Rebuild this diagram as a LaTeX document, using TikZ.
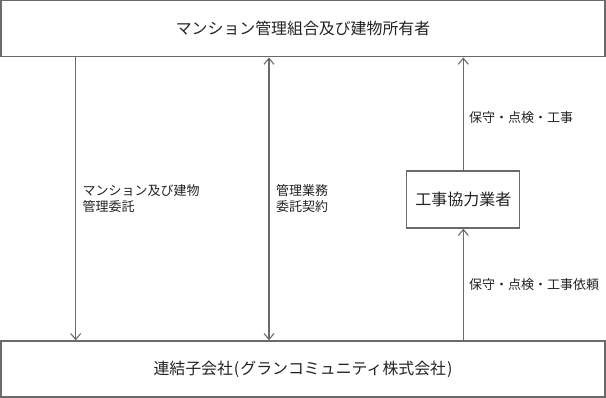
\documentclass[tikz,border=0pt]{standalone}
\usepackage{fontspec}
\newfontfamily\jp{Noto Sans CJK JP}
\usetikzlibrary{arrows.meta}
\definecolor{linegray}{HTML}{6A6A6A}
\definecolor{txt}{HTML}{222222}
\tikzset{
  bigbox/.style={draw=linegray, line width=1.3pt, minimum width=604pt, minimum height=56pt, inner sep=0pt, text=txt, font=\jp\fontsize{15.9}{18}\selectfont},
  subbox/.style={draw=linegray, line width=1.3pt, minimum width=113pt, minimum height=57pt, inner sep=0pt, text=txt, font=\jp\fontsize{16}{18}\selectfont},
  lbl/.style={anchor=north west, align=left, inner sep=0pt, text=txt, font=\jp\fontsize{13}{16}\selectfont},
  conn/.style={draw=linegray, line width=1.3pt},
  tip/.style={-{Straight Barb[length=6pt,width=10pt,line width=1.1pt]}},
}
\begin{document}
\begin{tikzpicture}[x=1pt,y=-1pt]
\useasboundingbox (0,0) rectangle (606,398);
\node[bigbox] (top) at (303,28.8) {マンション管理組合及び建物所有者};
\node[bigbox] (bot) at (303,369) {連結子会社\hspace{1pt}(\hspace{1pt}グランコミュニティ株式会社\hspace{1pt})};
\node[subbox] (work) at (463.3,199.5) {工事協力業者};
\coordinate (a1) at (75.7,200);
\coordinate (a2) at (269,200);
\draw[conn,tip] (top.south -| a1) -- (bot.north -| a1);
\draw[conn,{Straight Barb[length=6pt,width=10pt,line width=1.1pt]}-{Straight Barb[length=6pt,width=10pt,line width=1.1pt]}] (top.south -| a2) -- (bot.north -| a2);
\draw[conn,tip] (bot.north -| work.south) -- (work.south);
\draw[conn,tip] (work.north) -- (top.south -| work.north);
\node[lbl] (l1) at (82.5,184) {マンション及び建物\\管理委託};
\node[lbl] (l2) at (276,184) {管理業務\\委託契約};
\node[lbl] (l3) at (469,111) {保守・点検・工事};
\node[lbl] (l4) at (469,278) {保守・点検・工事依頼};
\end{tikzpicture}
\end{document}
